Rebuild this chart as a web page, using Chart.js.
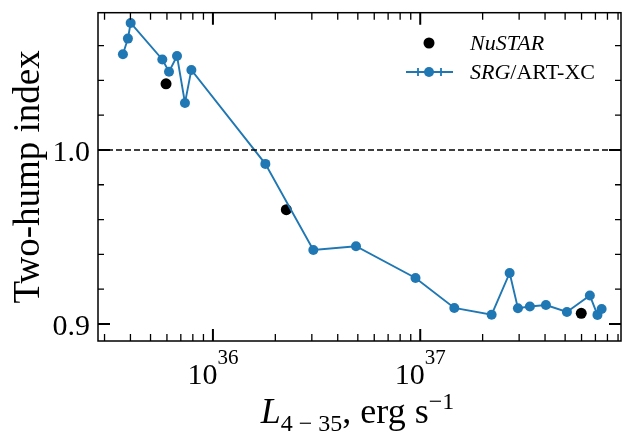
<!DOCTYPE html>
<html>
<head>
<meta charset="utf-8">
<script src="https://cdn.jsdelivr.net/npm/chart.js@4/dist/chart.umd.min.js"></script>
<style>
  body { margin: 0; background: #fff; }
  #wrap { width: 628px; height: 435px; position: relative; }
</style>
</head>
<body>
<div id="wrap"><canvas id="twoHumpChart"></canvas></div>
<script>
// —————— DATA ——————
// SRG/ART-XC: luminosity (erg/s) and two-hump index
const artLum = [3.68e35, 3.89e35, 4.01e35, 5.70e35, 6.14e35, 6.71e35, 7.33e35, 7.87e35,
  1.79e36, 3.05e36, 4.90e36, 9.49e36, 1.46e37, 2.21e37, 2.70e37, 2.96e37,
  3.38e37, 4.04e37, 5.10e37, 6.58e37, 7.16e37, 7.50e37];
const artIndex = [1.055, 1.064, 1.073, 1.052, 1.045, 1.054, 1.027, 1.046,
  0.992, 0.9425, 0.9447, 0.9264, 0.9092, 0.9053, 0.9293, 0.909,
  0.910, 0.9109, 0.9069, 0.9164, 0.9052, 0.9086];

// NuSTAR
const nuLum = [5.94e35, 2.26e36, 5.98e37];
const nuIndex = [1.038, 0.9657, 0.9061];

const refLevel = 1.0;
const xRange = [2.79e35, 9.3e37];
const yRange = [0.8902, 1.0789];
const xMajor = [36, 37];       // exponents of labelled decades
const yMajor = [0.9, 1.0];
const yMinorStep = 0.02;

const SERIF = '"Liberation Serif", "Times New Roman", serif';
const BLUE = '#1f77b4';

const toPts = (xs, ys) => xs.map((x, i) => ({ x: x, y: ys[i] }));

// —————— AXES / LEGEND DECORATION ——————
const frameAndLabels = {
  id: 'frameAndLabels',
  afterDraw(chart) {
    const { ctx, chartArea: a, scales: { x, y } } = chart;
    ctx.save();
    ctx.strokeStyle = '#000';
    ctx.fillStyle = '#000';

    // ticks, pointing inward, on all four sides
    const xTick = (v, len, w) => {
      const px = x.getPixelForValue(v);
      ctx.lineWidth = w;
      ctx.beginPath();
      ctx.moveTo(px, a.bottom); ctx.lineTo(px, a.bottom - len);
      ctx.moveTo(px, a.top); ctx.lineTo(px, a.top + len);
      ctx.stroke();
    };
    const yTick = (v, len, w) => {
      const py = y.getPixelForValue(v);
      ctx.lineWidth = w;
      ctx.beginPath();
      ctx.moveTo(a.left, py); ctx.lineTo(a.left + len, py);
      ctx.moveTo(a.right, py); ctx.lineTo(a.right - len, py);
      ctx.stroke();
    };
    for (let e = 35; e <= 37; e++) {
      for (let k = 1; k <= 9; k++) {
        const v = k * Math.pow(10, e);
        if (v < xRange[0] || v > xRange[1]) continue;
        if (k === 1) xTick(v, 12, 2); else xTick(v, 7, 1.3);
      }
    }
    for (let v = 0.9; v <= yRange[1]; v += yMinorStep) {
      const isMajor = yMajor.some(m => Math.abs(m - v) < 1e-6);
      if (isMajor) yTick(v, 12, 2); else yTick(v, 6, 1.3);
    }
    for (let v = 0.9 - yMinorStep; v >= yRange[0]; v -= yMinorStep) yTick(v, 6, 1.3);

    // frame
    ctx.lineWidth = 1.5;
    ctx.strokeRect(a.left, a.top, a.right - a.left, a.bottom - a.top);

    // y tick labels
    ctx.font = '30px ' + SERIF;
    ctx.textAlign = 'right';
    ctx.textBaseline = 'alphabetic';
    yMajor.forEach(v => {
      ctx.fillText(v.toFixed(1), a.left - 8, y.getPixelForValue(v) + 11);
    });

    // x tick labels: 10^n
    ctx.textAlign = 'left';
    xMajor.forEach(e => {
      const px = x.getPixelForValue(Math.pow(10, e));
      ctx.font = '30px ' + SERIF;
      const wBase = ctx.measureText('10').width;
      ctx.font = '21px ' + SERIF;
      const wExp = ctx.measureText(String(e)).width;
      const left = px - (wBase + wExp) / 2;
      ctx.font = '30px ' + SERIF;
      ctx.fillText('10', left, a.bottom + 43);
      ctx.font = '21px ' + SERIF;
      ctx.fillText(String(e), left + wBase, a.bottom + 23);
    });

    // x title: L_{4-35}, erg s^-1
    const parts = [
      { t: 'L', f: 'italic 36px ', dy: 0 },
      { t: '4 \u2212 35', f: '24px ', dy: 8 },
      { t: ', erg s', f: '36px ', dy: 0 },
      { t: '\u22121', f: '24px ', dy: -14 }
    ];
    let total = 0;
    parts.forEach(p => { ctx.font = p.f + SERIF; p.w = ctx.measureText(p.t).width; total += p.w; });
    let cx = (a.left + a.right) / 2 - total / 2 - 2;
    const base = a.bottom + 82;
    parts.forEach(p => {
      ctx.font = p.f + SERIF;
      ctx.fillText(p.t, cx, base + p.dy);
      cx += p.w;
    });

    // y title
    ctx.save();
    ctx.translate(39, (a.top + a.bottom) / 2);
    ctx.rotate(-Math.PI / 2);
    ctx.textAlign = 'center';
    ctx.font = '37px ' + SERIF;
    ctx.fillText('Two-hump index', 0, 0);
    ctx.restore();

    // legend
    const lx = 429, ly1 = 43, ly2 = 72;
    ctx.beginPath();
    ctx.arc(lx, ly1, 5.5, 0, Math.PI * 2);
    ctx.fill();
    ctx.strokeStyle = BLUE;
    ctx.fillStyle = BLUE;
    ctx.lineWidth = 1.8;
    ctx.beginPath();
    ctx.moveTo(406, ly2); ctx.lineTo(453, ly2);
    ctx.moveTo(418, ly2 - 4); ctx.lineTo(418, ly2 + 4);
    ctx.moveTo(441, ly2 - 4); ctx.lineTo(441, ly2 + 4);
    ctx.stroke();
    ctx.beginPath();
    ctx.arc(lx, ly2, 5, 0, Math.PI * 2);
    ctx.fill();

    ctx.fillStyle = '#000';
    ctx.textAlign = 'left';
    ctx.font = 'italic 22px ' + SERIF;
    ctx.fillText('NuSTAR', 470, ly1 + 7);
    ctx.fillText('SRG', 470, ly2 + 7);
    const wSrg = ctx.measureText('SRG').width;
    ctx.font = '22px ' + SERIF;
    ctx.fillText('/ART-XC', 470 + wSrg, ly2 + 7);
    ctx.restore();
  }
};

// —————— CHART ——————
const ctx = document.getElementById('twoHumpChart');
new Chart(ctx, {
  type: 'scatter',
  data: {
    datasets: [
      {
        label: 'ref',
        data: [{ x: xRange[0], y: refLevel }, { x: xRange[1], y: refLevel }],
        showLine: true,
        borderColor: '#000',
        borderWidth: 1.5,
        borderDash: [6, 3],
        pointRadius: 0
      },
      {
        label: 'SRG/ART-XC',
        data: toPts(artLum, artIndex),
        showLine: true,
        borderColor: BLUE,
        borderWidth: 1.9,
        pointRadius: 5,
        pointBackgroundColor: BLUE,
        pointBorderWidth: 0
      },
      {
        label: 'NuSTAR',
        data: toPts(nuLum, nuIndex),
        borderColor: '#000',
        pointRadius: 5.5,
        pointBackgroundColor: '#000',
        pointBorderWidth: 0
      }
    ]
  },
  options: {
    responsive: true,
    maintainAspectRatio: false,
    animation: false,
    layout: { padding: { top: 12.7, right: 7, left: 0, bottom: 0 } },
    plugins: { legend: { display: false }, tooltip: { enabled: false } },
    scales: {
      x: {
        type: 'logarithmic',
        min: xRange[0],
        max: xRange[1],
        ticks: { display: false },
        grid: { display: false },
        border: { display: false },
        afterFit: s => { s.height = 94; }
      },
      y: {
        min: yRange[0],
        max: yRange[1],
        ticks: { display: false },
        grid: { display: false },
        border: { display: false },
        afterFit: s => { s.width = 98; }
      }
    }
  },
  plugins: [frameAndLabels]
});
</script>
</body>
</html>
